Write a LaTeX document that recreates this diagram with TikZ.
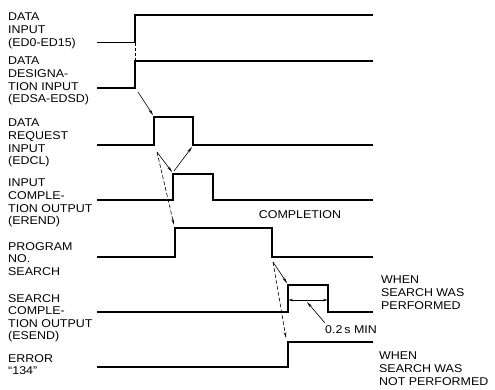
\documentclass[tikz,border=0pt]{standalone}
\usepackage{fontspec}
\setmainfont{Liberation Sans}[FakeStretch=1.1]
\usetikzlibrary{arrows.meta}
\begin{document}
\begin{tikzpicture}[
x=1pt,y=-1pt,
signal/.style={line width=1.6pt},
lbl/.style={inner sep=0,anchor=north west,align=left,font=\fontsize{11.3}{12.6}\selectfont},
cause/.style={line width=0.6pt,-{Stealth[length=6pt,width=2.6pt]}},
guide/.style={cause,dash pattern=on 4pt off 2pt}
]
\useasboundingbox (0,0) rectangle (495,389);
% signal names
\node[lbl] (din) at (8,13) {DATA\\INPUT\\(ED0-ED15)};
\node[lbl] (dsg) at (8,57) {DATA\\DESIGNA-\\TION INPUT\\(EDSA-EDSD)};
\node[lbl] (drq) at (8,119) {DATA\\REQUEST\\INPUT\\(EDCL)};
\node[lbl] (icp) at (8,179) {INPUT\\COMPLE-\\TION OUTPUT\\(EREND)};
\node[lbl] (pns) at (8,242) {PROGRAM\\NO.\\SEARCH};
\node[lbl] (scp) at (8,294) {SEARCH\\COMPLE-\\TION OUTPUT\\(ESEND)};
\node[lbl] (err) at (8,354) {ERROR\\``134''};
\node[lbl] (done) at (381,276) {WHEN\\SEARCH WAS\\PERFORMED};
\node[lbl] (notdone) at (379,352) {WHEN\\SEARCH WAS\\NOT PERFORMED};
\node[inner sep=0,font=\fontsize{11.3}{12.6}\selectfont] (cmpl) at (300,215) {COMPLETION};
\node[inner sep=0,anchor=base west,font=\fontsize{11.3}{12.6}\selectfont] (tmin) at (325,333) {0.2\,s MIN};

% waveforms
\draw[signal] (97,42.5) -- (135,42.5) -- (135,15) -- (373,15);
\draw[signal] (97,88) -- (135,88) -- (135,61) -- (373,61);
\draw[signal] (97,145) -- (154,145) -- (154,117) -- (193,117) -- (193,145) -- (373,145);
\draw[signal] (97,200) -- (173,200) -- (173,174) -- (213,174) -- (213,200) -- (373,200);
\draw[signal] (97,257) -- (175,257) -- (175,228) -- (272,228) -- (272,257) -- (373,257);
\draw[signal] (97,312) -- (288,312) -- (288,285) -- (328,285) -- (328,312) -- (373,312);
\draw[signal] (97,367) -- (288,367) -- (288,342) -- (373,342);

% edge points
\coordinate (dinR) at (135,42.5);
\coordinate (dsgR) at (135,61);
\coordinate (dsgT) at (138,92);
\coordinate (drqR) at (153,115);
\coordinate (drqB) at (157,152);
\coordinate (drqF) at (192,147);
\coordinate (icpR) at (172,172);
\coordinate (icpT) at (174,171);
\coordinate (pnsR) at (174,225);
\coordinate (pnsF) at (273,262);
\coordinate (scpR) at (287,283);
\coordinate (errR) at (286,338);
\coordinate (wL) at (288,300);
\coordinate (wR) at (328,300);
\coordinate (wM) at (307,302);
\coordinate (tminT) at (325,323);

% timing relations
\draw[line width=0.6pt,dash pattern=on 3pt off 2pt] (dinR) -- (dsgR);
\draw[cause] (dsgT) -- (drqR);
\draw[cause] (drqB) -- (icpR);
\draw[guide] (drqB) -- (pnsR);
\draw[cause] (icpT) -- (drqF);
\draw[cause] (pnsF) -- (scpR);
\draw[guide] (pnsF) -- (errR);
\draw[line width=0.6pt,{Stealth[length=5pt,width=2.4pt]}-{Stealth[length=5pt,width=2.4pt]}] (wL) -- (wR);
\draw[cause] (tminT) -- (wM);
\end{tikzpicture}
\end{document}
